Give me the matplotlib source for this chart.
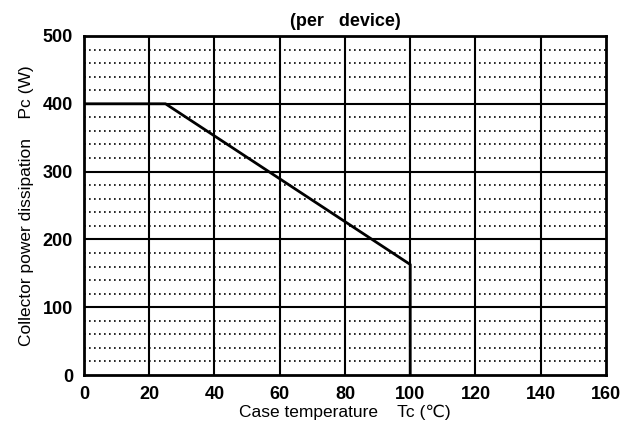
import matplotlib
matplotlib.use("Agg")
import matplotlib.pyplot as plt
import numpy as np

plt.rcParams['font.family'] = ['Liberation Sans', 'DejaVu Sans']

# Data
curve_tc = [0, 25, 100, 100]
curve_pc = [400, 400, 163, 0]
x_ticks = [0, 20, 40, 60, 80, 100, 120, 140, 160]
y_ticks = [0, 100, 200, 300, 400, 500]
y_minor = [v for v in range(20, 500, 20) if v % 100 != 0]

fig = plt.figure(figsize=(6.24, 4.26), dpi=100)
ax = fig.add_axes([0.1346, 0.1197, 0.8365, 0.7958])
ax.set_xlim(0, 160)
ax.set_ylim(0, 500)

for y in y_minor:
    ax.axhline(y, color='black', lw=1.2, ls=(0, (1.0, 2.0)), zorder=1)
for y in y_ticks[1:-1]:
    ax.axhline(y, color='black', lw=1.5, zorder=2)
for x in x_ticks[1:-1]:
    ax.axvline(x, color='black', lw=1.5, zorder=2)

ax.plot(curve_tc, curve_pc, color='black', lw=2.0, zorder=3)

for s in ax.spines.values():
    s.set_linewidth(2.0)

ax.set_xticks(x_ticks)
ax.set_yticks(y_ticks)
ax.tick_params(length=0, pad=8, labelsize=13)
for lab in ax.get_xticklabels() + ax.get_yticklabels():
    lab.set_fontweight('bold')

ax.set_xlabel('Case temperature    Tc (\u2103)', fontsize=12.5, labelpad=1)
ax.set_ylabel('Collector power dissipation    Pc (W)', fontsize=12.5, labelpad=6)
ax.set_title('(per   device)', fontsize=13, fontweight='bold', pad=7)

fig.savefig('out.png', dpi=100)
